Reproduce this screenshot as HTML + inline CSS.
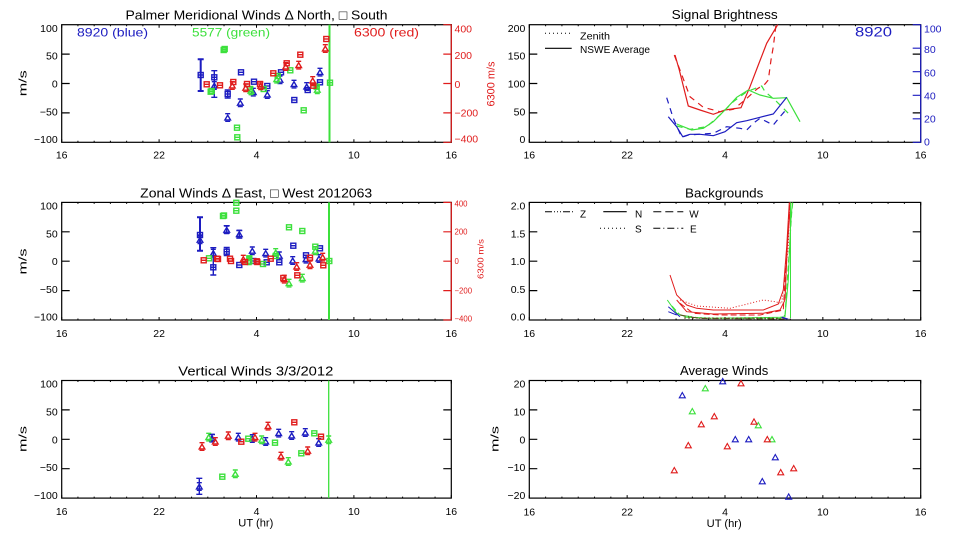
<!DOCTYPE html>
<html><head><meta charset="utf-8"><style>
html,body{margin:0;padding:0;background:#fff;}
svg{display:block;}
text{font-family:"Liberation Sans","DejaVu Sans",sans-serif;}
</style></head><body>
<svg width="960" height="540" viewBox="0 0 960 540" xmlns="http://www.w3.org/2000/svg">
<defs>
<g id="s"><rect x="-2.5" y="-2.5" width="5" height="5" fill="none"/><path d="M-2.5,0H2.5"/></g>
<g id="t"><path d="M-2.8,2.2H2.8L0,-2.6Z" fill="none"/><path d="M-2.5,-4H2.5M-2.5,3.6H2.5"/></g>
<path id="ta" d="M-3,2.5H3L0,-2.8Z" fill="none"/>
<!-- x ticks left column, relative to bottom axis y=0, top axis y=-117.6 -->
<path id="xtl" stroke="#000" stroke-width="1" d="M61.7,0v-3M77.93,0v-1.5M94.17,0v-1.5M110.4,0v-1.5M126.63,0v-1.5M142.87,0v-1.5M159.1,0v-3M175.33,0v-1.5M191.57,0v-1.5M207.8,0v-1.5M224.03,0v-1.5M240.27,0v-1.5M256.5,0v-3M272.73,0v-1.5M288.97,0v-1.5M305.2,0v-1.5M321.43,0v-1.5M337.67,0v-1.5M353.9,0v-3M370.13,0v-1.5M386.37,0v-1.5M402.6,0v-1.5M418.83,0v-1.5M435.07,0v-1.5M451.3,0v-3
M61.7,-117.6v3M77.93,-117.6v1.5M94.17,-117.6v1.5M110.4,-117.6v1.5M126.63,-117.6v1.5M142.87,-117.6v1.5M159.1,-117.6v3M175.33,-117.6v1.5M191.57,-117.6v1.5M207.8,-117.6v1.5M224.03,-117.6v1.5M240.27,-117.6v1.5M256.5,-117.6v3M272.73,-117.6v1.5M288.97,-117.6v1.5M305.2,-117.6v1.5M321.43,-117.6v1.5M337.67,-117.6v1.5M353.9,-117.6v3M370.13,-117.6v1.5M386.37,-117.6v1.5M402.6,-117.6v1.5M418.83,-117.6v1.5M435.07,-117.6v1.5M451.3,-117.6v3"/>
<path id="xtr" stroke="#000" stroke-width="1" d="M529.3,0v-3M545.61,0v-1.5M561.92,0v-1.5M578.23,0v-1.5M594.53,0v-1.5M610.84,0v-1.5M627.15,0v-3M643.46,0v-1.5M659.77,0v-1.5M676.08,0v-1.5M692.38,0v-1.5M708.69,0v-1.5M725,0v-3M741.31,0v-1.5M757.62,0v-1.5M773.93,0v-1.5M790.23,0v-1.5M806.54,0v-1.5M822.85,0v-3M839.16,0v-1.5M855.47,0v-1.5M871.78,0v-1.5M888.08,0v-1.5M904.39,0v-1.5M920.7,0v-3
M529.3,-117.6v3M545.61,-117.6v1.5M561.92,-117.6v1.5M578.23,-117.6v1.5M594.53,-117.6v1.5M610.84,-117.6v1.5M627.15,-117.6v3M643.46,-117.6v1.5M659.77,-117.6v1.5M676.08,-117.6v1.5M692.38,-117.6v1.5M708.69,-117.6v1.5M725,-117.6v3M741.31,-117.6v1.5M757.62,-117.6v1.5M773.93,-117.6v1.5M790.23,-117.6v1.5M806.54,-117.6v1.5M822.85,-117.6v3M839.16,-117.6v1.5M855.47,-117.6v1.5M871.78,-117.6v1.5M888.08,-117.6v1.5M904.39,-117.6v1.5M920.7,-117.6v3"/>
<!-- y ticks relative to top -->
<path id="ytl" stroke="#000" stroke-width="1.2" d="M61.7,29.4h8M61.7,58.8h8M61.7,88.2h8"/>
<path id="ytlr" stroke="#000" stroke-width="1.2" d="M451.3,29.4h-8M451.3,58.8h-8M451.3,88.2h-8"/>
<path id="ytr" stroke="#000" stroke-width="1.2" d="M529.3,29.4h8M529.3,58.8h8M529.3,88.2h8"/>
<path id="ytrr" stroke="#000" stroke-width="1.2" d="M920.7,29.4h-8M920.7,58.8h-8M920.7,88.2h-8"/>
</defs>

<rect width="960" height="540" fill="#fff"/>

<!-- ================= TOP LEFT ================= -->
<text x="256.5" y="19.3" font-size="13" text-anchor="middle" textLength="262" lengthAdjust="spacingAndGlyphs">Palmer Meridional Winds Δ North, □ South</text>
<rect x="61.7" y="24.7" width="389.6" height="117.6" fill="none" stroke="#000" stroke-width="1.2"/>
<use href="#xtl" transform="translate(0,142.3)"/>
<use href="#ytl" transform="translate(0,24.7)"/>
<g font-size="10.5" text-anchor="end">
<text x="57.7" y="31.9">100</text><text x="57.7" y="59.7">50</text><text x="57.7" y="87.5">0</text><text x="57.7" y="115.3">−50</text><text x="57.7" y="143.1">−100</text>
</g>
<g font-size="10.5" text-anchor="middle">
<text x="61.7" y="158.3">16</text><text x="159.1" y="158.3">22</text><text x="256.5" y="158.3">4</text><text x="353.9" y="158.3">10</text><text x="451.3" y="158.3">16</text>
</g>
<text transform="translate(26.5,83.3) rotate(-90)" font-size="11" text-anchor="middle" textLength="26" lengthAdjust="spacingAndGlyphs">m/s</text>
<!-- red right axis -->
<g stroke="#e01c1c" stroke-width="1.2">
<path d="M451.3,24.7V142.3"/>
<path d="M451.3,24.7h-8M451.3,54.1h-8M451.3,83.5h-8M451.3,112.9h-8M451.3,142.3h-8"/>
</g>
<g font-size="10.5" fill="#e01c1c">
<text x="454.5" y="32.6">400</text><text x="454.5" y="59.1">200</text><text x="454.5" y="88.1">0</text><text x="454.5" y="116.6">−200</text><text x="454.5" y="142.6">−400</text>
<text transform="translate(494.5,84) rotate(-90)" font-size="11" text-anchor="middle" textLength="45" lengthAdjust="spacingAndGlyphs">6300 m/s</text>
</g>
<text x="77" y="36.5" font-size="12" fill="#1c1cc0" textLength="71" lengthAdjust="spacingAndGlyphs">8920 (blue)</text>
<text x="192" y="36.5" font-size="12" fill="#3ce03c" textLength="78" lengthAdjust="spacingAndGlyphs">5577 (green)</text>
<text x="354" y="36.5" font-size="12" fill="#e01c1c" textLength="65" lengthAdjust="spacingAndGlyphs">6300 (red)</text>
<!-- green vertical -->
<path d="M329.5,24.7V142.3" stroke="#3ce03c" stroke-width="2"/>
<!-- blue markers -->
<g stroke="#1c1cc0" stroke-width="1.4">
<path d="M200.7,59.3V91M197.7,59.3h6M197.7,91h6" stroke-width="2"/>
<path d="M214.3,70.7V97.3M211.3,70.7h6M211.3,97.3h6"/>
<path d="M227.7,90V98M224.7,90h6M224.7,98h6"/>
<use href="#s" x="200.7" y="75"/>
<use href="#s" x="214.3" y="77.3"/><use href="#t" x="214.3" y="85.7"/>
<use href="#s" x="227.7" y="94"/><use href="#t" x="227.7" y="117.7"/>
<use href="#s" x="241" y="72.3"/><use href="#t" x="240.3" y="103"/>
<use href="#s" x="254" y="81.7"/><use href="#t" x="253.3" y="92.3"/>
<use href="#s" x="267.3" y="86"/><use href="#t" x="267.3" y="94.7"/>
<use href="#s" x="281" y="72.3"/><use href="#t" x="280" y="80"/>
<use href="#t" x="294" y="84.3"/><use href="#s" x="294.3" y="100"/>
<use href="#t" x="306.7" y="86.7"/><use href="#s" x="307.7" y="90"/>
<use href="#t" x="320" y="72.3"/><use href="#s" x="320" y="82.3"/>
</g>
<g stroke="#3ce03c" stroke-width="1.4">
<use href="#s" x="223.7" y="50"/><use href="#s" x="224.7" y="49"/>
<use href="#s" x="210.7" y="91.7"/><use href="#s" x="211.7" y="91"/>
<use href="#s" x="237" y="127.7"/><use href="#s" x="237.3" y="137.3"/>
<use href="#s" x="250" y="89"/><use href="#t" x="251" y="91"/>
<use href="#s" x="263.7" y="89"/>
<use href="#t" x="276.7" y="79.3"/><use href="#s" x="277.7" y="76"/>
<use href="#s" x="290.3" y="70.3"/>
<use href="#s" x="303.7" y="110.3"/>
<use href="#s" x="316.7" y="86.7"/><use href="#t" x="317.3" y="90"/>
<use href="#s" x="330" y="82.7"/>
</g>
<g stroke="#e01c1c" stroke-width="1.4">
<use href="#s" x="206.7" y="84.3"/>
<use href="#s" x="220" y="85.3"/>
<use href="#s" x="233.3" y="82"/><use href="#t" x="232.3" y="85.7"/>
<use href="#s" x="247" y="84"/><use href="#t" x="245.7" y="88"/>
<use href="#s" x="260" y="84"/><use href="#t" x="260.7" y="86"/>
<use href="#s" x="273.3" y="73.3"/>
<use href="#s" x="286.7" y="63.3"/><use href="#t" x="285.7" y="66.7"/>
<use href="#s" x="300.3" y="54.7"/><use href="#t" x="298.7" y="65.3"/>
<use href="#t" x="312.7" y="80.7"/><use href="#s" x="313.3" y="85.7"/>
<use href="#s" x="326.3" y="39"/><use href="#t" x="325.3" y="48.7"/>
</g>

<!-- ================= MID LEFT ================= -->
<text x="256.2" y="197.3" font-size="13" text-anchor="middle" textLength="232" lengthAdjust="spacingAndGlyphs">Zonal Winds Δ East, □ West 2012063</text>
<rect x="61.7" y="202.4" width="389.6" height="117.6" fill="none" stroke="#000" stroke-width="1.2"/>
<use href="#xtl" transform="translate(0,320)"/>
<use href="#ytl" transform="translate(0,202.4)"/>
<g font-size="10.5" text-anchor="end">
<text x="57.7" y="209.5">100</text><text x="57.7" y="237.3">50</text><text x="57.7" y="265.1">0</text><text x="57.7" y="292.9">−50</text><text x="57.7" y="320.7">−100</text>
</g>
<g font-size="10.5" text-anchor="middle">
<text x="61.7" y="337">16</text><text x="159.1" y="337">22</text><text x="256.5" y="337">4</text><text x="353.9" y="337">10</text><text x="451.3" y="337">16</text>
</g>
<text transform="translate(26.5,261.5) rotate(-90)" font-size="11" text-anchor="middle" textLength="26" lengthAdjust="spacingAndGlyphs">m/s</text>
<g stroke="#e01c1c" stroke-width="1.2">
<path d="M451.3,202.4V320"/>
<path d="M451.3,202.4h-8M451.3,231.8h-8M451.3,261.2h-8M451.3,290.6h-8M451.3,320h-8"/>
</g>
<g font-size="7.8" fill="#e01c1c">
<text x="454.5" y="206.7">400</text><text x="454.5" y="234.4">200</text><text x="454.5" y="263.8">0</text><text x="454.5" y="293.4">−200</text><text x="454.5" y="321.7">−400</text>
<text transform="translate(483.5,259) rotate(-90)" font-size="8.5" text-anchor="middle" textLength="40" lengthAdjust="spacingAndGlyphs">6300 m/s</text>
</g>
<path d="M329,202.4V320" stroke="#3ce03c" stroke-width="2"/>
<g stroke="#1c1cc0" stroke-width="1.4">
<path d="M200,217.3V250.7M197,217.3h6M197,250.7h6" stroke-width="2"/>
<path d="M213.3,247.7V275M210.3,247.7h6M210.3,275h6"/>
<path d="M226.7,225.7V233.3M223.7,225.7h6M223.7,233.3h6M226.7,247.5V255.5M223.7,247.5h6M223.7,255.5h6"/>
<path d="M239.3,230.5V238M236.3,230.5h6M236.3,238h6"/>
<use href="#s" x="200" y="235"/><use href="#t" x="200" y="240"/>
<use href="#t" x="213.3" y="253.3"/><use href="#s" x="213.3" y="267.3"/>
<use href="#t" x="226.7" y="230"/><use href="#s" x="226.7" y="251.7"/>
<use href="#t" x="239.3" y="234.3"/><use href="#s" x="239.3" y="265"/>
<use href="#t" x="252.3" y="251"/><use href="#s" x="253.3" y="261"/>
<use href="#t" x="265.7" y="253.3"/><use href="#s" x="266.7" y="262.3"/>
<use href="#t" x="279.3" y="256"/><use href="#s" x="279.3" y="262.3"/>
<use href="#t" x="292.7" y="260.7"/><use href="#s" x="293.3" y="245.7"/>
<use href="#t" x="306" y="259.3"/><use href="#s" x="306" y="255.3"/>
<use href="#t" x="319" y="258.7"/><use href="#s" x="320" y="248.3"/>
</g>
<g stroke="#3ce03c" stroke-width="1.4">
<use href="#s" x="209" y="258.3"/>
<use href="#s" x="223" y="216"/><use href="#s" x="224" y="215.5"/>
<use href="#s" x="236.3" y="202.8"/><use href="#s" x="236.3" y="210.7"/>
<use href="#s" x="249.3" y="258.3"/><use href="#t" x="249.3" y="261"/>
<use href="#s" x="263" y="264"/>
<use href="#t" x="275.7" y="252.7"/><use href="#s" x="275.7" y="256"/>
<use href="#s" x="289" y="227.3"/><use href="#t" x="289" y="283.3"/>
<use href="#s" x="302.3" y="231"/><use href="#t" x="302.3" y="278.3"/>
<use href="#s" x="315.3" y="246.7"/><use href="#t" x="315.3" y="251"/>
<use href="#s" x="329.3" y="261"/>
</g>
<g stroke="#e01c1c" stroke-width="1.4">
<use href="#s" x="203.7" y="260.3"/>
<use href="#s" x="217" y="258.7"/><use href="#s" x="218" y="259"/>
<use href="#s" x="230" y="258.7"/><use href="#s" x="231" y="261"/>
<use href="#t" x="243.3" y="259.3"/><use href="#s" x="245" y="262"/>
<use href="#s" x="256.7" y="261.3"/><use href="#s" x="257.3" y="262"/>
<use href="#s" x="270.7" y="258.7"/>
<use href="#s" x="283.3" y="278"/><use href="#t" x="284.3" y="279.3"/>
<use href="#t" x="296.7" y="266.7"/><use href="#s" x="297.3" y="275.3"/>
<use href="#s" x="310" y="257.7"/><use href="#t" x="310" y="265"/>
<use href="#t" x="322.7" y="257.3"/><use href="#s" x="323.3" y="265.3"/>
</g>

<!-- ================= BOTTOM LEFT ================= -->
<text x="255.8" y="375.7" font-size="13" text-anchor="middle" textLength="155" lengthAdjust="spacingAndGlyphs">Vertical Winds 3/3/2012</text>
<rect x="61.7" y="380.5" width="389.6" height="117.6" fill="none" stroke="#000" stroke-width="1.2"/>
<use href="#xtl" transform="translate(0,498.1)"/>
<use href="#ytl" transform="translate(0,380.5)"/>
<use href="#ytlr" transform="translate(0,380.5)"/>
<g font-size="10.5" text-anchor="end">
<text x="57.7" y="387.7">100</text><text x="57.7" y="415.5">50</text><text x="57.7" y="443.3">0</text><text x="57.7" y="471.1">−50</text><text x="57.7" y="498.9">−100</text>
</g>
<g font-size="10.5" text-anchor="middle">
<text x="61.7" y="515">16</text><text x="159.1" y="515">22</text><text x="256.5" y="515">4</text><text x="353.9" y="515">10</text><text x="451.3" y="515">16</text>
</g>
<text x="255.8" y="526.5" font-size="11" text-anchor="middle" textLength="35" lengthAdjust="spacingAndGlyphs">UT (hr)</text>
<text transform="translate(26.5,439) rotate(-90)" font-size="11" text-anchor="middle" textLength="26" lengthAdjust="spacingAndGlyphs">m/s</text>
<path d="M328.7,380.5V498.1" stroke="#3ce03c" stroke-width="1.3"/>
<g stroke="#1c1cc0" stroke-width="1.4">
<path d="M199.3,478.3V494.3M196.3,478.3h6M196.3,494.3h6"/>
<path d="M212,434.5V441.5M209,434.5h6M209,441.5h6"/>
<use href="#t" x="199.3" y="486.7"/><use href="#t" x="212" y="438.3"/><use href="#t" x="238.3" y="437.3"/>
<use href="#t" x="252.3" y="438.7"/><use href="#t" x="265.7" y="441.7"/><use href="#t" x="278.7" y="433.3"/>
<use href="#t" x="291.7" y="435.7"/><use href="#t" x="305.3" y="432.7"/><use href="#t" x="318.7" y="442.7"/>
</g>
<g stroke="#e01c1c" stroke-width="1.4">
<use href="#t" x="202" y="446.7"/><use href="#t" x="215.3" y="441.7"/><use href="#t" x="228.3" y="436"/>
<use href="#s" x="241.3" y="441.7"/><use href="#t" x="255" y="437.3"/><use href="#t" x="268" y="426.3"/>
<use href="#t" x="281" y="456.3"/><use href="#s" x="294.3" y="422.3"/><use href="#t" x="307.7" y="451"/>
<use href="#s" x="321" y="436.7"/>
</g>
<g stroke="#3ce03c" stroke-width="1.4">
<use href="#t" x="208.7" y="437.3"/><use href="#s" x="222.3" y="476.7"/><use href="#t" x="235.3" y="474"/>
<use href="#s" x="248.3" y="438.7"/><use href="#t" x="261.7" y="440"/><use href="#s" x="275" y="442.7"/>
<use href="#t" x="288.3" y="461.7"/><use href="#s" x="301.3" y="453.3"/><use href="#s" x="314.3" y="433.3"/>
<use href="#t" x="328.7" y="440"/>
</g>

<!-- ================= TOP RIGHT ================= -->
<text x="724.7" y="19" font-size="13" text-anchor="middle" textLength="106" lengthAdjust="spacingAndGlyphs">Signal Brightness</text>
<rect x="529.3" y="24.7" width="391.4" height="117.6" fill="none" stroke="#000" stroke-width="1.2"/>
<use href="#xtr" transform="translate(0,142.3)"/>
<use href="#ytr" transform="translate(0,24.7)"/>
<use href="#ytrr" transform="translate(0,24.7)"/>
<g font-size="10.5" text-anchor="end">
<text x="525.3" y="31.9">200</text><text x="525.3" y="59.7">150</text><text x="525.3" y="87.5">100</text><text x="525.3" y="115.3">50</text><text x="525.3" y="143.1">0</text>
</g>
<g font-size="10.5" text-anchor="middle">
<text x="529.3" y="158.3">16</text><text x="627.2" y="158.3">22</text><text x="725" y="158.3">4</text><text x="822.8" y="158.3">10</text><text x="920.7" y="158.3">16</text>
</g>
<g stroke="#1c1cc0" stroke-width="1.2">
<path d="M920.7,24.7V142.3"/>
<path d="M920.7,24.7h-8M920.7,48.2h-8M920.7,71.7h-8M920.7,95.3h-8M920.7,118.8h-8M920.7,142.3h-8"/>
</g>
<g font-size="10.5" fill="#1c1cc0">
<text x="924" y="32.6">100</text><text x="924" y="52.9">80</text><text x="924" y="76.3">60</text><text x="924" y="99.3">40</text><text x="924" y="122.6">20</text><text x="924" y="145.3">0</text>
</g>
<text x="855" y="36.7" font-size="13.5" fill="#1c1cc0" textLength="37" lengthAdjust="spacingAndGlyphs">8920</text>
<path d="M545,33.3H570" stroke="#000" stroke-width="1" stroke-dasharray="1 3"/>
<path d="M545,48.3H571.7" stroke="#000" stroke-width="1.2"/>
<text x="580" y="39.3" font-size="10" textLength="30" lengthAdjust="spacingAndGlyphs">Zenith</text>
<text x="580" y="53" font-size="10" textLength="70" lengthAdjust="spacingAndGlyphs">NSWE Average</text>
<g fill="none" stroke-width="1.2">
<polyline stroke="#e01c1c" points="675,55 679.3,70 688.3,106 700,110 713.3,114.3 725,110 741,107.7 750,86.7 758.3,65 766.7,43.3 777.7,24.7"/>
<polyline stroke="#e01c1c" stroke-dasharray="6 5" points="674.3,55 690,96.7 703.3,107.3 720,111.7 733.3,109.3 745,100 757,89 765,84 768.3,80 771,60 773.3,46.7 776,24.7"/>
<polyline stroke="#3ce03c" points="676.7,124 691.7,130 703.3,128.3 713.3,121.7 725,110 736.7,97.3 748.3,90 760,95 773.3,98.3 786.7,97.7 800,121.7"/>
<polyline stroke="#3ce03c" stroke-dasharray="6 5" points="676.7,126 690,129.3 706.7,126.7 720,115 733.3,101.7 746.7,91.7 761.7,86 765,91.7 775,100 786.7,111.7 791.7,116.7"/>
<polyline stroke="#1c1cc0" points="668.3,116.7 676.7,126.7 682.7,136.7 690,134.3 700,134.3 713.3,135.7 725,131.7 736.7,122.7 746.7,120.7 760,117.3 773.3,114 786.7,97.3"/>
<polyline stroke="#1c1cc0" stroke-dasharray="6 5" points="666.7,97.7 673.3,118.3 681.7,137.3 688.3,135 713.3,133.3 726.7,126.7 740,128.3 746.7,130 753.3,123.3 760,118.3 766.7,121.7 773.3,125 780,116.7 785,111"/>
</g>

<!-- ================= MID RIGHT ================= -->
<text x="724.2" y="197.3" font-size="13" text-anchor="middle" textLength="78.3" lengthAdjust="spacingAndGlyphs">Backgrounds</text>
<rect x="529.3" y="202.4" width="391.4" height="117.6" fill="none" stroke="#000" stroke-width="1.2"/>
<use href="#xtr" transform="translate(0,320)"/>
<use href="#ytr" transform="translate(0,202.4)"/>
<use href="#ytrr" transform="translate(0,202.4)"/>
<g font-size="10.5" text-anchor="end">
<text x="525.3" y="209.5">2.0</text><text x="525.3" y="237.3">1.5</text><text x="525.3" y="265.1">1.0</text><text x="525.3" y="292.9">0.5</text><text x="525.3" y="320.7">0.0</text>
</g>
<g font-size="10.5" text-anchor="middle">
<text x="529.3" y="337">16</text><text x="627.2" y="337">22</text><text x="725" y="337">4</text><text x="822.8" y="337">10</text><text x="920.7" y="337">16</text>
</g>
<g stroke="#000" stroke-width="1" fill="none">
<path d="M545,211.7H575" stroke-dasharray="7 2 1 2 1 2 1 2"/>
<path d="M603.3,211.7H626.7" stroke-width="1.2"/>
<path d="M653.3,211.7H683.3" stroke-dasharray="8 4"/>
<path d="M600,228.3H626.7" stroke-dasharray="1 3"/>
<path d="M653.3,228.3H683.3" stroke-dasharray="7 3 1 3"/>
</g>
<g font-size="10">
<text x="580" y="217.3">Z</text><text x="635" y="217.3">N</text><text x="689.3" y="217.3">W</text>
<text x="635" y="232.3">S</text><text x="690" y="232.3">E</text>
</g>
<g fill="none" stroke-width="1">
<polyline stroke="#e01c1c" points="670,275 676.7,295 686.7,305 696.7,308.3 713.3,310 763.3,310 778.3,304 783.3,290 786.7,246.7 789.3,202.4"/>
<polyline stroke="#e01c1c" points="676.7,300 686.7,311.7 713.3,314 763.3,313.3 780,310 785,300 787.3,246.7 790.7,202.4"/>
<polyline stroke="#e01c1c" stroke-dasharray="1 2" points="680,300 696.7,306 730,308.3 763.3,300 775,301.7 781.7,303.3 788.3,246.7 789.5,202.4"/>
<polyline stroke="#e01c1c" stroke-dasharray="6 3" points="680,303.3 693.3,313.3 720,315 760,315 783.3,310 786,263 790,202.4"/>
<polyline stroke="#3ce03c" points="667.3,300 676.7,313.3 686.7,317.3 713.3,318.3 780,317.3 785,316.7 788.3,280 790.7,223.3 792.3,202.4"/>
<polyline stroke="#3ce03c" stroke-dasharray="6 3" points="672,306 680,315 700,318 780,318.5 785,315 791.7,213.3 792.8,202.4"/>
<path stroke="#3ce03c" d="M790.5,318V202.4"/>
<polyline stroke="#1c1cc0" points="668.3,306.7 680,316.7"/>
<polyline stroke="#1c1cc0" points="668.3,311.7 676.7,315"/>
<polyline stroke="#1c1cc0" stroke-width="1.5" points="781.7,317.3 788.3,319.3"/>
<polyline stroke="#5a4a20" stroke-dasharray="6 2 1 2" points="680,315 700,318.5 780,319 788,319.3"/>
<polyline stroke="#5a4a20" stroke-dasharray="2 2" points="684,318 780,318.2"/>
</g>

<!-- ================= BOTTOM RIGHT ================= -->
<text x="724.2" y="375" font-size="13" text-anchor="middle" textLength="88.3" lengthAdjust="spacingAndGlyphs">Average Winds</text>
<rect x="529.3" y="380.5" width="391.4" height="117.6" fill="none" stroke="#000" stroke-width="1.2"/>
<use href="#xtr" transform="translate(0,498.1)"/>
<use href="#ytr" transform="translate(0,380.5)"/>
<use href="#ytrr" transform="translate(0,380.5)"/>
<g font-size="10.5" text-anchor="end">
<text x="525.3" y="387.7">20</text><text x="525.3" y="415.5">10</text><text x="525.3" y="443.3">0</text><text x="525.3" y="471.1">−10</text><text x="525.3" y="498.9">−20</text>
</g>
<g font-size="10.5" text-anchor="middle">
<text x="529.3" y="515.5">16</text><text x="627.2" y="515.5">22</text><text x="725" y="515.5">4</text><text x="822.8" y="515.5">10</text><text x="920.7" y="515.5">16</text>
</g>
<text x="724.2" y="527" font-size="11" text-anchor="middle" textLength="35" lengthAdjust="spacingAndGlyphs">UT (hr)</text>
<text transform="translate(498.5,439) rotate(-90)" font-size="11" text-anchor="middle" textLength="26" lengthAdjust="spacingAndGlyphs">m/s</text>
<g stroke="#1c1cc0" stroke-width="1.1">
<use href="#ta" x="682.3" y="395.3"/><use href="#ta" x="722.7" y="381.3"/><use href="#ta" x="735.3" y="439.3"/>
<use href="#ta" x="748.7" y="439.3"/><use href="#ta" x="762.3" y="481.3"/><use href="#ta" x="775.3" y="457.3"/>
<use href="#ta" x="788.7" y="496.7"/>
</g>
<g stroke="#3ce03c" stroke-width="1.1">
<use href="#ta" x="692.3" y="411.3"/><use href="#ta" x="705.3" y="388.3"/><use href="#ta" x="758.3" y="425.3"/>
<use href="#ta" x="772" y="439.3"/>
</g>
<g stroke="#e01c1c" stroke-width="1.1">
<use href="#ta" x="674.3" y="470.3"/><use href="#ta" x="688.3" y="445.3"/><use href="#ta" x="701.3" y="424.3"/>
<use href="#ta" x="714.3" y="416.3"/><use href="#ta" x="727.3" y="446.3"/><use href="#ta" x="741" y="383.3"/>
<use href="#ta" x="754" y="421.7"/><use href="#ta" x="767.3" y="439.3"/><use href="#ta" x="780.7" y="472.3"/>
<use href="#ta" x="793.7" y="468.3"/>
</g>
</svg>
</body></html>
